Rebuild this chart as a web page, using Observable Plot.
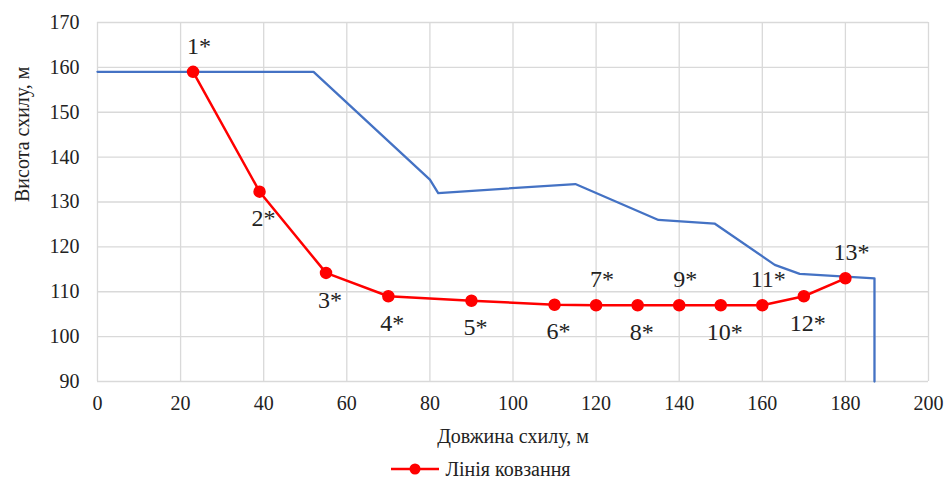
<!DOCTYPE html>
<html>
<head>
<meta charset="utf-8">
<script src="https://cdn.jsdelivr.net/npm/d3@7"></script>
<script src="https://cdn.jsdelivr.net/npm/@observablehq/plot@0.6"></script>
<style>
  body { margin: 0; background: #fff; }
  #chart { width: 952px; height: 486px; position: relative; font-family: "Liberation Serif", "Times New Roman", "DejaVu Serif", serif; }
  #chart svg { display: block; }
  #chart svg text { font-family: "Liberation Serif", "Times New Roman", "DejaVu Serif", serif !important; }
  .legend { position: absolute; left: 0; top: 452px; width: 952px; height: 34px; display: flex; justify-content: center; align-items: center; padding-left: 10px; box-sizing: border-box; font-size: 20px; color: #222; }
  .legend svg { margin-right: 6px; }
</style>
</head>
<body>
<div id="chart"></div>
<script>
// Slope surface (blue)
const slopeX = [0, 52, 80, 82, 115, 135, 148.5, 163, 169, 187, 187];
const slopeY = [159, 159, 135, 132, 134, 126, 125.2, 116, 114, 113, 90];
// Slip line (red) with numbered points
const slipX = [23, 39, 55, 70, 90, 110, 120, 130, 140, 150, 160, 170, 180];
const slipY = [159, 132.3, 114.2, 109, 108, 107.1, 107, 107, 107, 107, 107, 109, 113];
const pointLabels = ["1*", "2*", "3*", "4*", "5*", "6*", "7*", "8*", "9*", "10*", "11*", "12*", "13*"];
const labelSide = ["above", "below", "below", "below", "below", "below", "above", "below", "above", "below", "above", "below", "above"];
const xTicks = [0, 20, 40, 60, 80, 100, 120, 140, 160, 180, 200];
const yTicks = [90, 100, 110, 120, 130, 140, 150, 160, 170];
const xTitle = "Довжина схилу, м";
const yTitle = "Висота схилу, м";
const seriesName = "Лінія ковзання";

const slope = slopeX.map((x, i) => ({x, y: slopeY[i]}));
const slip = slipX.map((x, i) => ({x, y: slipY[i], label: pointLabels[i], side: labelSide[i]}));

const plot = Plot.plot({
  width: 952,
  height: 452,
  marginLeft: 97,
  marginRight: 24,
  marginTop: 22,
  marginBottom: 71,
  style: { fontSize: "20px", color: "#222", background: "#fff" },
  x: { domain: [0, 200], ticks: xTicks, tickSize: 0, tickPadding: 14, label: null },
  y: { domain: [90, 170], ticks: yTicks, tickSize: 0, tickPadding: 18, label: null },
  marks: [
    Plot.gridX(xTicks, { stroke: "#d9d9d9", strokeOpacity: 1, strokeWidth: 1.3 }),
    Plot.gridY(yTicks, { stroke: "#d9d9d9", strokeOpacity: 1, strokeWidth: 1.3 }),
    Plot.axisX({ ticks: xTicks, tickSize: 0, tickPadding: 14, fontSize: 20, label: null }),
    Plot.axisY({ ticks: yTicks, tickSize: 0, tickPadding: 18, fontSize: 20, label: null }),
    Plot.text([xTitle], { frameAnchor: "bottom", dy: 55, fontSize: 20, lineAnchor: "middle", text: d => d }),
    Plot.text([yTitle], { frameAnchor: "left", dx: -75, rotate: -90, fontSize: 20, text: d => d }),
    Plot.line(slope, { x: "x", y: "y", stroke: "#4472C4", strokeWidth: 2.3 }),
    Plot.line(slip, { x: "x", y: "y", stroke: "#FF0000", strokeWidth: 2.5 }),
    Plot.dot(slip, { x: "x", y: "y", r: 5.5, fill: "#FF0000", stroke: "#FF0000" }),
    Plot.text(slip.filter(d => d.side === "above"), { x: "x", y: "y", text: "label", dx: 6, dy: -26, fontSize: 24, fill: "#222" }),
    Plot.text(slip.filter(d => d.side === "below"), { x: "x", y: "y", text: "label", dx: 4, dy: 27, fontSize: 24, fill: "#222" })
  ]
});

const chart = document.getElementById("chart");
chart.appendChild(plot);

const legend = document.createElement("div");
legend.className = "legend";
legend.innerHTML = `<svg width="48" height="16"><line x1="0" y1="8" x2="48" y2="8" stroke="#FF0000" stroke-width="2.5"/><circle cx="24" cy="8" r="5.5" fill="#FF0000"/></svg><span>${seriesName}</span>`;
chart.appendChild(legend);
</script>
</body>
</html>
